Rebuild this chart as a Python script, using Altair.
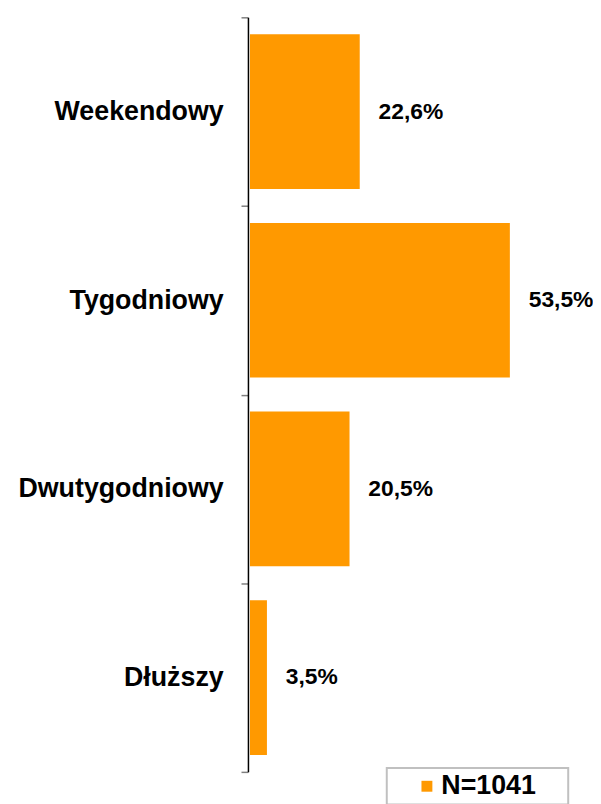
import altair as alt
import pandas as pd

categories = ["Weekendowy", "Tygodniowy", "Dwutygodniowy", "Dłuższy"]
values = [22.6, 53.5, 20.5, 3.5]
value_labels = ["22,6%", "53,5%", "20,5%", "3,5%"]
series_name = "N=1041"

df = pd.DataFrame({
    "cat": categories,
    "val": values,
    "lab": value_labels,
    "series": [series_name] * len(categories),
})

FONT = "Liberation Sans"
ORANGE = "#FF9900"

y_enc = alt.Y(
    "cat:N",
    sort=categories,
    title=None,
    scale=alt.Scale(paddingInner=0, paddingOuter=0),
    axis=alt.Axis(
        labelFont=FONT,
        labelFontSize=27,
        labelFontWeight="bold",
        labelColor="black",
        labelPadding=18,
        labelLimit=400,
        tickSize=7,
        tickColor="#808080",
        tickWidth=1.5,
        domainColor="black",
        domainWidth=1.5,
        offset=2,
        tickBand="extent",
        grid=False,
    ),
)
x_enc = alt.X("val:Q", scale=alt.Scale(domain=[0, 60]), axis=None)

bars = alt.Chart(df).mark_bar(height=alt.RelativeBandSize(0.82)).encode(
    x=x_enc,
    y=y_enc,
    color=alt.Color(
        "series:N",
        scale=alt.Scale(range=[ORANGE]),
        legend=alt.Legend(
            title=None,
            orient="none",
            legendX=138,
            legendY=757,
            symbolType="square",
            symbolSize=121,
            symbolOffset=22,
            symbolStrokeWidth=0,
            labelOffset=1,
            labelFont=FONT,
            labelFontSize=27,
            labelFontWeight="bold",
            labelColor="black",
            labelExpr="datum.label + '\u00a0\u2800'",
            padding=5,
            strokeColor="#c0c0c0",
        ),
    ),
)

texts = alt.Chart(df).mark_text(
    align="left", baseline="middle", dx=19, font=FONT, fontSize=23,
    fontWeight="bold", color="black",
).encode(
    x=x_enc,
    y=alt.Y("cat:N", sort=categories),
    text="lab:N",
)

chart = alt.layer(bars, texts).properties(
    width=294,
    height=761,
    autosize=alt.AutoSizeParams(type="none"),
    padding={"left": 244, "top": 6, "right": 52, "bottom": 29},
).configure_view(strokeWidth=0).configure_legend(strokeWidth=2)

chart.save("out.html", embed_options={"renderer": "svg", "actions": False})
